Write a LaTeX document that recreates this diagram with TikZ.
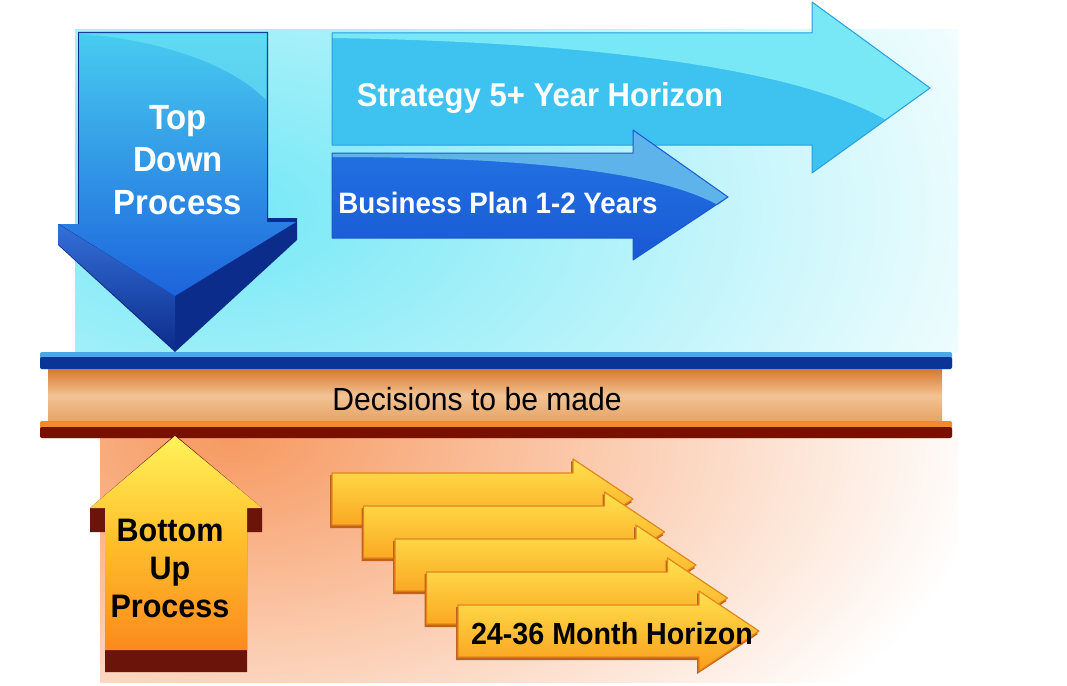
\documentclass[tikz,border=0pt]{standalone}
\usepackage{fontspec}
\setmainfont{Liberation Sans}
\newfontfamily\narrowsans[FakeStretch=0.94]{Liberation Sans}
\definecolor{cyanglow}{HTML}{74E8F6}
\definecolor{orglow}{HTML}{F79A62}
\definecolor{tdnavy}{HTML}{0C2C8C}
\definecolor{tdtop}{HTML}{48CCF0}
\definecolor{tdbot}{HTML}{1C63DC}
\definecolor{tdbevel}{HTML}{3470D8}
\definecolor{stbase}{HTML}{3EC2F0}
\definecolor{sthigh}{HTML}{78E8F7}
\definecolor{stedge}{HTML}{2A9FE0}
\definecolor{bpbase}{HTML}{2276E4}
\definecolor{bpbot}{HTML}{1A58D4}
\definecolor{bphigh}{HTML}{5FB3EB}
\definecolor{barlight}{HTML}{4AA8E8}
\definecolor{barnavy}{HTML}{0A3496}
\definecolor{bandtop}{HTML}{D8782C}
\definecolor{bandmid}{HTML}{F1C395}
\definecolor{bandbot}{HTML}{E6A264}
\definecolor{barorange}{HTML}{F08A30}
\definecolor{barmaroon}{HTML}{781000}
\definecolor{upmaroon}{HTML}{6A140A}
\definecolor{upyellow}{HTML}{FFF25A}
\definecolor{upmid}{HTML}{FFBE2A}
\definecolor{uporange}{HTML}{FB8A1E}
\definecolor{oryellow}{HTML}{FFE24E}
\definecolor{ororange}{HTML}{FA9C1A}
\definecolor{oredge}{HTML}{E2861A}
\definecolor{orshadow}{HTML}{C2601E}
\tikzset{
  whitelbl/.style={text=white, inner sep=0pt, align=center},
  blacklbl/.style={text=black, inner sep=0pt, align=center},
  stairarrow/.style={top color=oryellow, bottom color=ororange, draw=oredge, line width=1.2pt, line join=round},
  stairshadow/.style={fill=orshadow, line join=round}
}
\begin{document}
\begin{tikzpicture}[x=1pt,y=-1pt]
\useasboundingbox (0,0) rectangle (1067,685);
\fill[white] (0,0) rectangle (1067,685);
% top background glow
\begin{scope}
  \clip (75,30) rectangle (958,352);
  \shade[inner color=cyanglow, outer color=white] (220,210) ellipse [x radius=880, y radius=520];
\end{scope}
% bottom background glow
\begin{scope}
  \clip (100,438) rectangle (958,682);
  \shade[inner color=orglow, outer color=white] (230,440) ellipse [x radius=760, y radius=420];
\end{scope}
% Strategy arrow
\fill[stbase] (332,33) -- (812,33) -- (812,2) -- (930,88) -- (812,173) -- (812,145) -- (332,145) -- cycle;
\fill[sthigh] (332,38) .. controls (600,42) and (800,70) .. (886,120) -- (930,88) -- (812,2) -- (812,33) -- (332,33) -- cycle;
\draw[stedge, line width=1pt, line join=round] (332,33) -- (812,33) -- (812,2) -- (930,88) -- (812,173) -- (812,145) -- (332,145) -- cycle;
\node[whitelbl, font=\narrowsans\bfseries\fontsize{33}{36}\selectfont] (strategy) at (540,98) {Strategy 5+ Year Horizon};
% Business plan arrow
\shade[top color=bpbase, bottom color=bpbot] (332,153) -- (633,153) -- (633,130) -- (728,197) -- (633,260) -- (633,238) -- (332,238) -- cycle;
\fill[bphigh] (332,157) .. controls (500,157) and (650,168) .. (718,205) -- (728,197) -- (633,130) -- (633,153) -- (332,153) -- cycle;
\draw[bpbot, line width=1pt, line join=round] (332,153) -- (633,153) -- (633,130) -- (728,197) -- (633,260) -- (633,238) -- (332,238) -- cycle;
\node[whitelbl, font=\narrowsans\bfseries\fontsize{29.5}{33}\selectfont] (business) at (498,203) {Business Plan 1-2 Years};
% Top down arrow
\fill[tdnavy] (78,32) -- (268,32) -- (268,218) -- (297,218) -- (297,240) -- (175,352) -- (58,245) -- (58,224) -- (78,224) -- cycle;
\shade[top color=tdbevel, bottom color=tdnavy] (58,224) -- (175,296) -- (175,350) -- (58,244) -- cycle;
\shade[top color=tdtop, bottom color=tdbot] (79,33) -- (267,33) -- (267,222) -- (296,222) -- (175,296) -- (59,224) -- (79,224) -- cycle;
\fill[cyanglow, opacity=0.55] (80,34) .. controls (150,38) and (230,62) .. (266,100) -- (266,34) -- cycle;
\node[whitelbl, font=\narrowsans\bfseries\fontsize{35}{42.5}\selectfont] (topdown) at (178,160) {Top\\Down\\Process};
% Decisions bar
\fill[barlight, rounded corners=2pt] (40,352) rectangle (952,369);
\fill[barnavy, rounded corners=2pt] (40,357) rectangle (952,369);
\shade[top color=bandtop, bottom color=bandbot, middle color=bandmid] (48,369) rectangle (942,422);
\fill[barorange, rounded corners=2pt] (40,421) rectangle (952,438);
\fill[barmaroon, rounded corners=2pt] (40,427) rectangle (952,438);
\node[blacklbl, font=\narrowsans\fontsize{32}{36}\selectfont] (decisions) at (477,399) {Decisions to be made};
% Bottom up arrow
\fill[upmaroon] (175,435) -- (262,508) -- (262,532) -- (247,532) -- (247,672) -- (105,672) -- (105,532) -- (90,532) -- (90,508) -- cycle;
\shade[top color=upyellow, bottom color=uporange, middle color=upmid] (175,436) -- (262,508) -- (247,508) -- (247,650) -- (105,650) -- (105,508) -- (90,508) -- cycle;
\node[blacklbl, font=\narrowsans\bfseries\fontsize{32.5}{38}\selectfont] (bottomup) at (170,568) {Bottom\\Up\\Process};
% staircase of month arrows
\foreach \i in {0,...,4}{
  \pgfmathsetmacro{\xa}{332+31.5*\i}
  \pgfmathsetmacro{\yc}{499+33*\i}
  \fill[stairshadow] (\xa-2,\yc-24) -- (\xa+239,\yc-24) -- (\xa+239,\yc-38) -- (\xa+300,\yc+3) -- (\xa+239,\yc+43) -- (\xa+239,\yc+29) -- (\xa-2,\yc+29) -- cycle;
  \shade[stairarrow] (\xa,\yc-26) -- (\xa+241,\yc-26) -- (\xa+241,\yc-40) -- (\xa+301,\yc) -- (\xa+241,\yc+40) -- (\xa+241,\yc+26) -- (\xa,\yc+26) -- cycle;
}
\node[blacklbl, font=\narrowsans\bfseries\fontsize{30.5}{34}\selectfont] (month) at (612,634) {24-36 Month Horizon};
\end{tikzpicture}
\end{document}
